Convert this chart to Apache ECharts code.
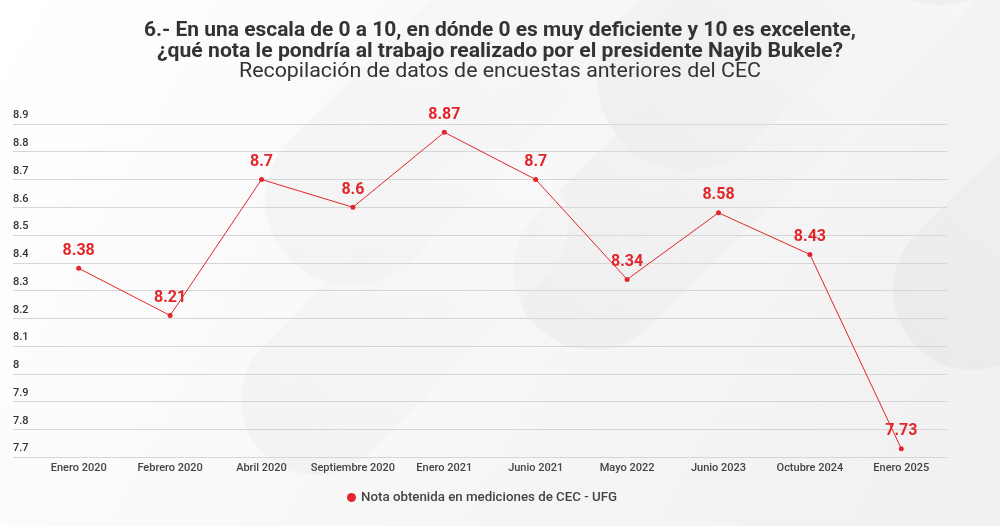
<!DOCTYPE html>
<html>
<head>
<meta charset="utf-8">
<script src="https://cdn.jsdelivr.net/npm/echarts@6/dist/echarts.min.js"></script>
<style>
html,body{margin:0;padding:0;background:#f4f4f4;}
#c{width:1000px;height:526px;}
</style>
</head>
<body>
<div id="c"></div>
<script>
const categories = ['Enero 2020','Febrero 2020','Abril 2020','Septiembre 2020','Enero 2021','Junio 2021','Mayo 2022','Junio 2023','Octubre 2024','Enero 2025'];
const values = [8.38, 8.21, 8.7, 8.6, 8.87, 8.7, 8.34, 8.58, 8.43, 7.73];
const seriesName = 'Nota obtenida en mediciones de CEC - UFG';
const yMin = 7.7, yMax = 8.9, yStep = 0.1;
const titleLine1 = '6.- En una escala de 0 a 10, en dónde 0 es muy deficiente y 10 es excelente,';
const titleLine2 = '¿qué nota le pondría al trabajo realizado por el presidente Nayib Bukele?';
const subtitle = 'Recopilación de datos de encuestas anteriores del CEC';

const RED = '#e3262b';

// condensed look: Roboto squeezed horizontally to the reference width
const mctx = document.createElement('canvas').getContext('2d');
function condensedText(text, y, weight, size, targetWidth) {
  mctx.font = weight + ' ' + size + 'px Roboto';
  const w = mctx.measureText(text).width;
  return {
    type: 'text', silent: true, z: 10,
    x: 500, y: y, originX: 0, originY: 0, scaleX: targetWidth / w,
    style: {text: text, x: 0, y: 0, align: 'center', verticalAlign: 'middle',
      font: weight + ' ' + size + 'px Roboto', fill: '#333333'}
  };
}

function band(x, y, w, h, c1, c2, op) {
  return {
    type: 'rect', silent: true, z: -10,
    x: x, y: y, rotation: Math.PI / 4, originX: 0, originY: 0,
    shape: {x: 0, y: 0, width: w, height: h, r: h / 2},
    style: {
      opacity: op,
      fill: {type: 'linear', x: 0, y: 0, x2: 1, y2: 0,
        colorStops: [{offset: 0, color: c1}, {offset: 1, color: c2}]}
    }
  };
}

const chart = echarts.init(document.getElementById('c'));
chart.setOption({
  backgroundColor: '#f5f5f5',
  graphic: [
    {type: 'rect', silent: true, z: -11, shape: {x: 0, y: 0, width: 1000, height: 526},
      style: {fill: {type: 'linear', x: 0, y: 0, x2: 1, y2: 1,
        colorStops: [{offset: 0, color: '#ffffff'}, {offset: 0.5, color: '#f7f7f7'}, {offset: 1, color: '#f0f0f0'}]}}},
    band(560, 80, 700, 180, '#e9e9e9', '#fbfbfb', 0.5),
    band(480, 270, 600, 160, '#e6e6e6', '#fcfcfc', 0.45),
    band(230, 200, 650, 170, '#ebebeb', '#fdfdfd', 0.4),
    band(860, 290, 500, 160, '#e4e4e4', '#f9f9f9', 0.5),
    band(210, 400, 400, 150, '#e9e9e9', '#fbfbfb', 0.4),
    band(820, -80, 500, 170, '#e7e7e7', '#fbfbfb', 0.5),
    condensedText(titleLine1, 31, 'bold', 21, 712),
    condensedText(titleLine2, 51.5, 'bold', 21, 686),
    condensedText(subtitle, 71.5, 'normal', 21, 522)
  ],
  legend: {
    data: [{name: seriesName, icon: 'circle'}],
    left: 342, top: 486, itemWidth: 9, itemHeight: 9, itemGap: 6,
    textStyle: {fontFamily: 'Roboto', fontWeight: 500, fontSize: 13.3, color: '#444444'}
  },
  grid: [
    {left: 13, right: 53, top: 124, bottom: 69},
    {left: 33, right: 53, top: 124, bottom: 69}
  ],
  xAxis: [
    {gridIndex: 0, type: 'value', min: 0, max: 1, show: false},
    {gridIndex: 1, type: 'category', data: categories, boundaryGap: true,
      axisLine: {show: false}, axisTick: {show: false},
      axisLabel: {margin: 6, fontFamily: 'Roboto', fontWeight: 500, fontSize: 11, color: '#444444', interval: 0}}
  ],
  yAxis: [
    {gridIndex: 0, type: 'value', min: yMin, max: yMax, interval: yStep,
      axisLine: {show: false}, axisTick: {show: false},
      splitLine: {show: true, lineStyle: {color: '#d6d6d6', width: 1}},
      axisLabel: {inside: true, margin: 0, align: 'left', verticalAlign: 'bottom', padding: [0, 0, 3, 0],
        fontFamily: 'Roboto', fontWeight: 500, fontSize: 11, color: '#333333',
        formatter: v => String(parseFloat(v.toFixed(1)))}},
    {gridIndex: 1, type: 'value', min: yMin, max: yMax, interval: yStep, show: false,
      splitLine: {show: false}}
  ],
  series: [{
    name: seriesName, type: 'line', xAxisIndex: 1, yAxisIndex: 1,
    data: values, color: RED,
    symbol: 'circle', symbolSize: 5,
    lineStyle: {color: RED, width: 1},
    itemStyle: {color: RED},
    label: {show: true, position: 'top', distance: 7,
      fontFamily: 'Roboto', fontWeight: 'bold', fontSize: 16, color: RED},
    emphasis: {disabled: true},
    animation: false
  }]
});
</script>
</body>
</html>
